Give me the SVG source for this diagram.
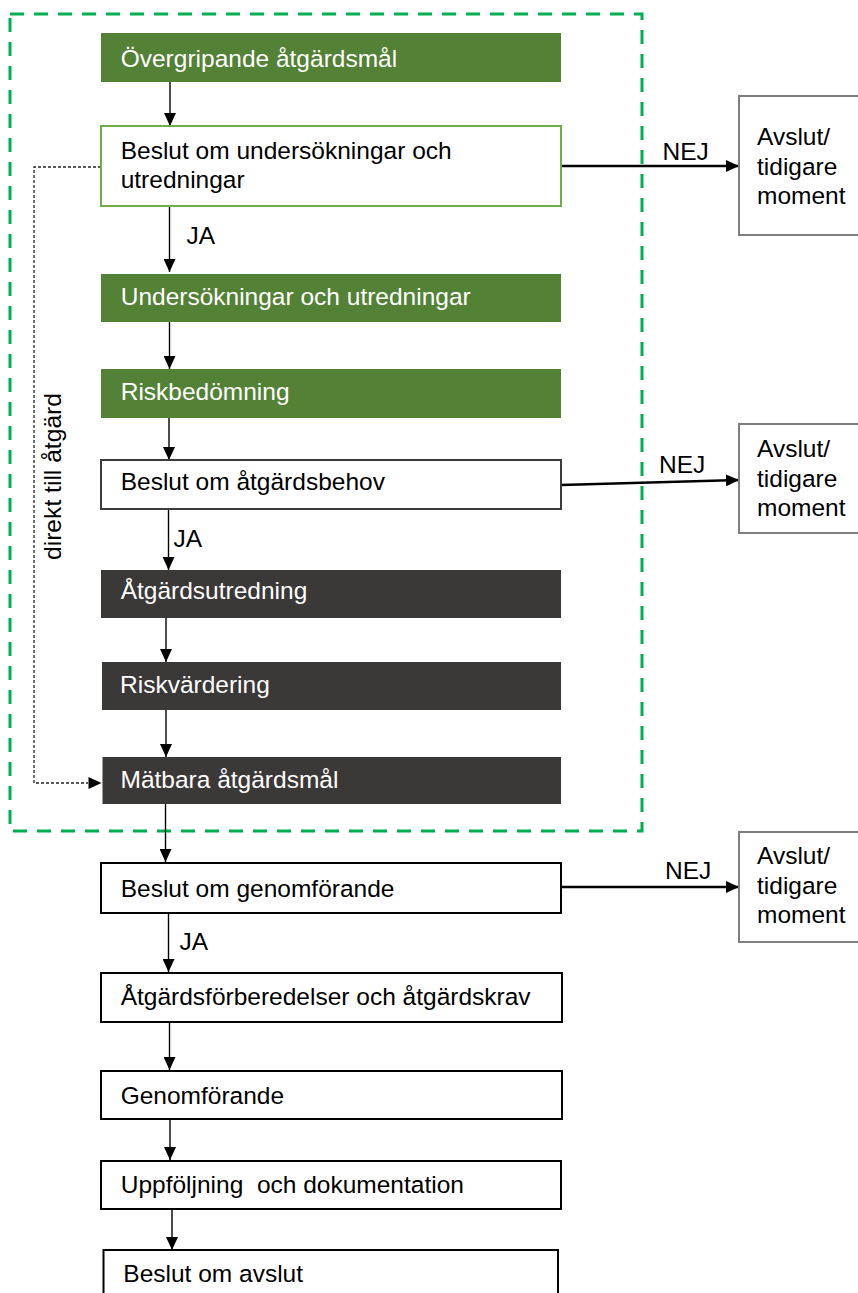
<svg xmlns="http://www.w3.org/2000/svg" width="858" height="1293" viewBox="0 0 858 1293">
<style>
text{font-family:"Liberation Sans",Arial,sans-serif;font-size:24.5px;fill:#000}
.w{fill:#fff}
.green{fill:#538135;stroke:none}
.dark{fill:#3b3838;stroke:none}
.decA{fill:#fff;stroke:#70ad47;stroke-width:2}
.decB{fill:#fff;stroke:#3c3c3c;stroke-width:2}
.plain{fill:#fff;stroke:#000;stroke-width:2}
.end{fill:#fff;stroke:#7f7f7f;stroke-width:2}
.arr{fill:none;stroke:#000;stroke-width:1.4;marker-end:url(#ah)}
.nej{fill:none;stroke:#000;stroke-width:2.6;marker-end:url(#ah)}
.dot{fill:none;stroke:#222;stroke-width:1.3;stroke-dasharray:3 2}
</style>
<defs>
<marker id="ah" markerUnits="userSpaceOnUse" markerWidth="13" markerHeight="12" refX="13" refY="6" orient="auto">
<path d="M0,0 L13,6 L0,12 z" fill="#000"/>
</marker>
</defs>
<rect width="858" height="1293" fill="#fff"/>
<rect id="scope" x="10" y="14" width="632" height="817" fill="none" stroke="#00b050" stroke-width="3" stroke-dasharray="14 10"/>

<g id="connectors">
<line class="arr" x1="170" y1="82" x2="170" y2="126"/>
<line class="arr" x1="169.5" y1="206" x2="169.5" y2="272"/>
<line class="arr" x1="169.5" y1="322" x2="169.5" y2="369"/>
<line class="arr" x1="169" y1="418" x2="169" y2="460"/>
<line class="arr" x1="168.5" y1="509" x2="168.5" y2="570"/>
<line class="arr" x1="166" y1="618" x2="166" y2="662"/>
<line class="arr" x1="166" y1="710" x2="166" y2="757"/>
<line class="arr" x1="165.5" y1="804" x2="165.5" y2="862"/>
<line class="arr" x1="168.5" y1="913" x2="168.5" y2="972"/>
<line class="arr" x1="169.5" y1="1022" x2="169.5" y2="1070"/>
<line class="arr" x1="170" y1="1119" x2="170" y2="1160"/>
<line class="arr" x1="172" y1="1209" x2="172" y2="1250"/>
<line class="nej" x1="561" y1="166" x2="739" y2="166"/>
<line class="nej" x1="561" y1="485" x2="739" y2="480"/>
<line class="nej" x1="561" y1="887" x2="739" y2="887"/>
<path class="dot" d="M101,167 H34 V783 H88"/>
<path d="M88.5,777 L101.5,783 L88.5,789 z" fill="#000"/>
<text x="186.5" y="243.5">JA</text>
<text x="173.5" y="547">JA</text>
<text x="179.5" y="950">JA</text>
<text x="662.5" y="159.5">NEJ</text>
<text x="659" y="473">NEJ</text>
<text x="665" y="879">NEJ</text>
<text transform="translate(61,560) rotate(-90)" font-size="19.5" textLength="167" lengthAdjust="spacingAndGlyphs">direkt till åtgärd</text>
</g>

<g id="n1"><rect class="green" x="101" y="33" width="460" height="49"/><text class="w" x="120.7" y="66.7">Övergripande åtgärdsmål</text></g>
<g id="n2"><rect class="decA" x="101" y="126" width="460" height="80"/><text x="120.7" y="158.5">Beslut om undersökningar och</text><text x="120.7" y="188">utredningar</text></g>
<g id="n3"><rect class="green" x="101" y="274" width="460" height="48"/><text class="w" x="120.7" y="305">Undersökningar och utredningar</text></g>
<g id="n4"><rect class="green" x="101" y="369" width="460" height="49"/><text class="w" x="120.7" y="400">Riskbedömning</text></g>
<g id="n5"><rect class="decB" x="101" y="460" width="460" height="49"/><text x="120.7" y="490">Beslut om åtgärdsbehov</text></g>
<g id="n6"><rect class="dark" x="101" y="570" width="460" height="48"/><text class="w" x="120.7" y="598.5">Åtgärdsutredning</text></g>
<g id="n7"><rect class="dark" x="102" y="662" width="459" height="48"/><text class="w" x="120" y="693.3">Riskvärdering</text></g>
<g id="n8"><rect class="dark" x="102.5" y="757" width="458.5" height="47"/><text class="w" x="120.5" y="788.3">Mätbara åtgärdsmål</text></g>
<g id="n9"><rect class="plain" x="101" y="863" width="460" height="50"/><text x="120.7" y="896.7">Beslut om genomförande</text></g>
<g id="n10"><rect class="plain" x="101" y="973" width="461" height="49"/><text x="120.7" y="1005">Åtgärdsförberedelser och åtgärdskrav</text></g>
<g id="n11"><rect class="plain" x="101" y="1071" width="461" height="48"/><text x="120.7" y="1104.3">Genomförande</text></g>
<g id="n12"><rect class="plain" x="101" y="1161" width="460" height="48"/><text x="120.7" y="1193.3" xml:space="preserve">Uppföljning  och dokumentation</text></g>
<g id="n13"><rect class="plain" x="103.5" y="1250" width="454.5" height="60"/><text x="123.3" y="1281.7">Beslut om avslut</text></g>

<g id="e1"><rect class="end" x="739" y="96" width="130" height="139"/><text x="757" y="145.3">Avslut/</text><text x="757" y="175">tidigare</text><text x="757" y="204">moment</text></g>
<g id="e2"><rect class="end" x="739" y="424" width="130" height="109"/><text x="757" y="456.7">Avslut/</text><text x="757" y="486.7">tidigare</text><text x="757" y="516">moment</text></g>
<g id="e3"><rect class="end" x="739" y="832" width="130" height="110"/><text x="757" y="864">Avslut/</text><text x="757" y="893.5">tidigare</text><text x="757" y="923.3">moment</text></g>
</svg>
